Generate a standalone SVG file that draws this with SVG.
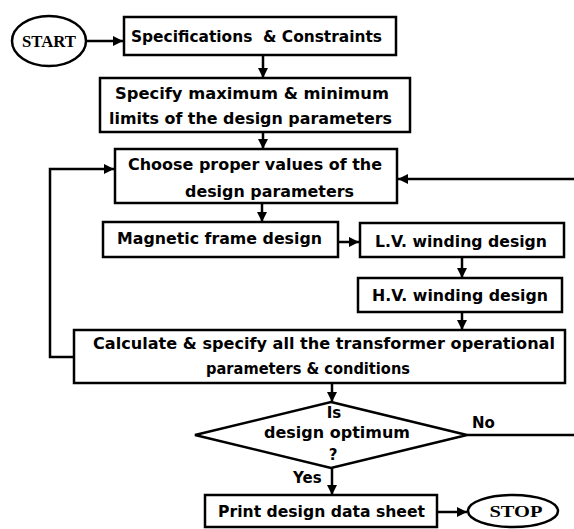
<svg xmlns="http://www.w3.org/2000/svg" width="574" height="529" viewBox="0 0 574 529">
<style>
.b{fill:#fff;stroke:#000;stroke-width:2.5}
.t{font-family:"DejaVu Sans","Liberation Sans",sans-serif;font-weight:bold;font-size:15px;fill:#000}
.s{font-family:"Liberation Serif","DejaVu Serif",serif;font-weight:bold;font-size:16px;fill:#000}
.c{fill:none;stroke:#000;stroke-width:2.5}
</style>
<defs>
<marker id="a" viewBox="0 0 10 10" refX="10" refY="5" markerWidth="4" markerHeight="4" orient="auto" markerUnits="strokeWidth">
<path d="M0,0L10,5L0,10z" fill="#000"/>
</marker>
</defs>
<rect width="574" height="529" fill="#fff"/>
<g id="connectors">
<path class="c" d="M87,41H123" marker-end="url(#a)"/>
<path class="c" d="M263,55V78" marker-end="url(#a)"/>
<path class="c" d="M263,132V149" marker-end="url(#a)"/>
<path class="c" d="M262,203V222" marker-end="url(#a)"/>
<path class="c" d="M338,242H359" marker-end="url(#a)"/>
<path class="c" d="M462,257V278" marker-end="url(#a)"/>
<path class="c" d="M462,312V330" marker-end="url(#a)"/>
<path class="c" d="M332,383V402" marker-end="url(#a)"/>
<path class="c" d="M332,468V495" marker-end="url(#a)"/>
<path class="c" d="M437,512H467" marker-end="url(#a)"/>
<path class="c" d="M74,357H50V169H114" marker-end="url(#a)"/>
<path class="c" d="M467,435H574"/>
<path class="c" d="M574,179H398" marker-end="url(#a)"/>
<text class="t" x="472" y="428">No</text>
<text class="t" x="293" y="483">Yes</text>
</g>
<g id="start">
<ellipse class="b" cx="49" cy="41" rx="37" ry="25"/>
<text class="s" x="49" y="47" text-anchor="middle" textLength="54" lengthAdjust="spacingAndGlyphs">START</text>
</g>
<g id="specs">
<rect class="b" x="124" y="17" width="272" height="38"/>
<text class="t" x="131" y="42" textLength="251" lengthAdjust="spacingAndGlyphs" style="white-space:pre">Specifications  &amp; Constraints</text>
</g>
<g id="limits">
<rect class="b" x="100" y="78" width="310" height="54"/>
<text class="t" x="115" y="99" textLength="274" lengthAdjust="spacingAndGlyphs">Specify maximum &amp; minimum</text>
<text class="t" x="109" y="124" textLength="283" lengthAdjust="spacingAndGlyphs">limits of the design parameters</text>
</g>
<g id="choose">
<rect class="b" x="115" y="149" width="282" height="54"/>
<text class="t" x="128" y="170" textLength="254" lengthAdjust="spacingAndGlyphs">Choose proper values of the</text>
<text class="t" x="185" y="197" textLength="169" lengthAdjust="spacingAndGlyphs">design parameters</text>
</g>
<g id="magnetic">
<rect class="b" x="103" y="222" width="235" height="35"/>
<text class="t" x="117" y="244" textLength="205" lengthAdjust="spacingAndGlyphs">Magnetic frame design</text>
</g>
<g id="lv">
<rect class="b" x="360" y="223" width="204" height="34"/>
<text class="t" x="375" y="247" textLength="172" lengthAdjust="spacingAndGlyphs">L.V. winding design</text>
</g>
<g id="hv">
<rect class="b" x="358" y="278" width="204" height="34"/>
<text class="t" x="372" y="301" textLength="176" lengthAdjust="spacingAndGlyphs">H.V. winding design</text>
</g>
<g id="calculate">
<rect class="b" x="74" y="330" width="491" height="53"/>
<text class="t" x="93" y="349" textLength="462" lengthAdjust="spacingAndGlyphs">Calculate &amp; specify all the transformer operational</text>
<text class="t" x="206" y="374" textLength="204" lengthAdjust="spacingAndGlyphs">parameters &amp; conditions</text>
</g>
<g id="decision">
<path class="b" d="M331,402L467,435L331,468L195,435z"/>
<text class="t" x="334" y="418" text-anchor="middle">Is</text>
<text class="t" x="264" y="438" textLength="146" lengthAdjust="spacingAndGlyphs">design optimum</text>
<text class="t" x="333" y="460" text-anchor="middle">?</text>
</g>
<g id="print">
<rect class="b" x="205" y="495" width="232" height="32"/>
<text class="t" x="218" y="517" textLength="207" lengthAdjust="spacingAndGlyphs">Print design data sheet</text>
</g>
<g id="stop">
<ellipse class="b" cx="513" cy="511" rx="45" ry="16"/>
<text class="s" x="516" y="517" text-anchor="middle" textLength="53" lengthAdjust="spacingAndGlyphs">STOP</text>
</g>
</svg>
